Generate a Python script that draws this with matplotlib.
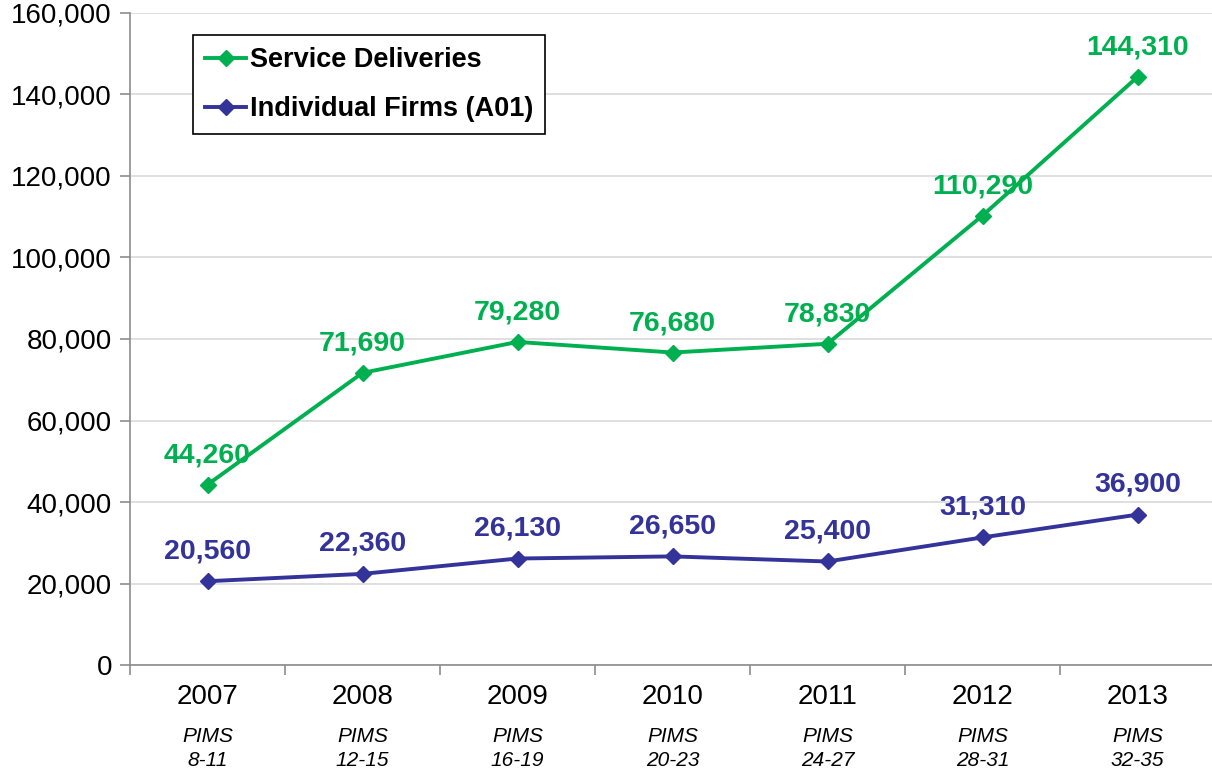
import matplotlib
matplotlib.use("Agg")
import matplotlib.pyplot as plt
from matplotlib.ticker import FuncFormatter, MultipleLocator, FixedLocator
import matplotlib.transforms as mtransforms

plt.rcParams['font.family'] = ['Liberation Sans', 'DejaVu Sans']

years = ["2007", "2008", "2009", "2010", "2011", "2012", "2013"]
pims = ["8-11", "12-15", "16-19", "20-23", "24-27", "28-31", "32-35"]
service_deliveries = [44260, 71690, 79280, 76680, 78830, 110290, 144310]
individual_firms = [20560, 22360, 26130, 26650, 25400, 31310, 36900]

green = "#00B050"
navy = "#333399"

fig = plt.figure(figsize=(12.12, 7.72), dpi=100)
ax = fig.add_axes([130 / 1212, 1 - 665 / 772, 1085 / 1212, (665 - 13) / 772])

x = list(range(len(years)))
ax.plot(x, service_deliveries, color=green, lw=2.8, marker="D", ms=8,
        label="Service Deliveries", zorder=3, clip_on=False)
ax.plot(x, individual_firms, color=navy, lw=2.8, marker="D", ms=8,
        label="Individual Firms (A01)", zorder=3, clip_on=False)

for xi, v in zip(x, service_deliveries):
    ax.annotate(f"{v:,}", (xi, v), xytext=(0, 29), textcoords="offset pixels",
                ha="center", va="center", fontsize=20.5, fontweight="bold",
                color=green, zorder=4)
for xi, v in zip(x, individual_firms):
    ax.annotate(f"{v:,}", (xi, v), xytext=(0, 30), textcoords="offset pixels",
                ha="center", va="center", fontsize=20.5, fontweight="bold",
                color=navy, zorder=4)

ax.set_xlim(-0.5, len(years) - 0.5)
ax.set_ylim(0, 160000)
ax.yaxis.set_major_locator(MultipleLocator(20000))
ax.yaxis.set_major_formatter(FuncFormatter(lambda v, p: f"{int(v):,}"))
ax.grid(axis="y", color="#D9D9D9", lw=1.2)
ax.set_axisbelow(True)

for s in ("top", "right"):
    ax.spines[s].set_visible(False)
for s in ("left", "bottom"):
    ax.spines[s].set_color("#8C8C8C")
    ax.spines[s].set_linewidth(1.2)

ax.tick_params(axis="y", length=7, width=1.2, color="#8C8C8C", labelsize=20,
               pad=6, labelcolor="black")
# category boundary ticks on the x axis, year labels centered between them
ax.xaxis.set_major_locator(FixedLocator([i - 0.5 for i in range(len(years) + 1)]))
ax.xaxis.set_major_formatter(FuncFormatter(lambda v, p: ""))
ax.tick_params(axis="x", which="major", length=7, width=1.2, color="#8C8C8C")

trans = mtransforms.blended_transform_factory(ax.transData, fig.transFigure)
for xi, yr, pm in zip(x, years, pims):
    ax.text(xi, 1 - 697 / 772, yr, transform=trans, ha="center", va="center",
            fontsize=20, color="black")
    ax.text(xi, 1 - 736 / 772, "PIMS", transform=trans, ha="center", va="center",
            fontsize=15, style="italic", color="black")
    ax.text(xi, 1 - 761 / 772, pm, transform=trans, ha="center", va="center",
            fontsize=15, style="italic", color="black")

leg = ax.legend(loc="upper left", bbox_to_anchor=((193 - 130) / 1085, (665 - 35) / 652),
                frameon=True, fancybox=False, edgecolor="black", framealpha=1,
                prop={"size": 19.5, "weight": "bold"}, handlelength=1.5,
                handletextpad=0.15, borderpad=0.45, labelspacing=0.85,
                borderaxespad=0)
leg.get_frame().set_linewidth(1.2)

fig.savefig("out.png", dpi=100)
